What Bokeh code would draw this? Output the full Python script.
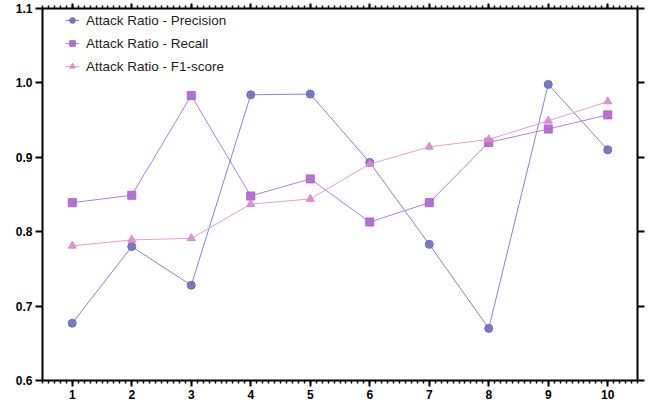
from bokeh.plotting import figure
from bokeh.models import (Range1d, LinearAxis, SingleIntervalTicker, FixedTicker,
                          PrintfTickFormatter, CustomJSTickFormatter, Legend, LegendItem)
from bokeh.embed import file_html
from bokeh.resources import INLINE

# ---- data ----
x_vals = [1, 2, 3, 4, 5, 6, 7, 8, 9, 10]
precision = [0.677, 0.780, 0.728, 0.984, 0.985, 0.893, 0.783, 0.670, 0.998, 0.910]
recall = [0.839, 0.849, 0.983, 0.848, 0.871, 0.813, 0.839, 0.920, 0.938, 0.957]
f1_score = [0.781, 0.789, 0.791, 0.837, 0.844, 0.891, 0.914, 0.924, 0.949, 0.975]
series_labels = ["Attack Ratio - Precision", "Attack Ratio - Recall", "Attack Ratio - F1-score"]
y_ticks = [0.6, 0.7, 0.8, 0.9, 1.0, 1.1]

FONT = "Liberation Sans"
W, H = 648, 405
TOP, BOTTOM, LEFT, RIGHT = 8, 25, 42, 11
FRAME_H = H - TOP - BOTTOM

p = figure(width=W, height=H, output_backend="svg", toolbar_location=None,
           x_range=Range1d(0.5, 10.5), y_range=Range1d(0.6, 1.1),
           x_axis_location=None, y_axis_location=None,
           min_border_left=LEFT, min_border_right=RIGHT,
           min_border_top=TOP, min_border_bottom=BOTTOM)
p.xgrid.visible = False
p.ygrid.visible = False
p.outline_line_color = None
p.background_fill_color = "white"
p.border_fill_color = "white"

def style(ax, tick_out, minor_out, labels=True):
    ax.axis_line_width = 2
    ax.axis_line_color = "black"
    ax.major_tick_line_width = 2
    ax.major_tick_line_color = "black"
    ax.minor_tick_line_width = 1.5
    ax.minor_tick_line_color = "black"
    ax.major_tick_in = 0
    ax.minor_tick_in = 0
    ax.major_tick_out = tick_out
    ax.minor_tick_out = minor_out
    if labels:
        ax.major_label_text_font = FONT
        ax.major_label_text_font_style = "bold"
        ax.major_label_text_font_size = "12px"
        ax.major_label_text_color = "black"
        ax.major_label_standoff = 3
    else:
        ax.formatter = CustomJSTickFormatter(code="return '';")
        ax.major_label_standoff = 0

xb = LinearAxis(ticker=SingleIntervalTicker(interval=1, num_minor_ticks=10))
style(xb, 6, 3)
p.add_layout(xb, "below")

xt = LinearAxis(ticker=SingleIntervalTicker(interval=1, num_minor_ticks=10))
style(xt, 5, 3, labels=False)
p.add_layout(xt, "above")

yl = LinearAxis(ticker=FixedTicker(ticks=y_ticks, minor_ticks=[]),
                formatter=PrintfTickFormatter(format="%.1f"))
style(yl, 7, 0)
p.add_layout(yl, "left")

yr = LinearAxis(ticker=FixedTicker(ticks=y_ticks, minor_ticks=[]))
style(yr, 7, 0, labels=False)
p.add_layout(yr, "right")

# ---- series ----
items = []
l1 = p.line(x_vals, precision, line_color="#8585cf", line_width=1)
m1 = p.scatter(x_vals, precision, marker="circle", size=8, fill_color="#6c6cc0",
               line_color="#6c6cc0", fill_alpha=0.9)
items.append(LegendItem(label=series_labels[0], renderers=[l1, m1]))

l2 = p.line(x_vals, recall, line_color="#b77fd9", line_width=1)
m2 = p.scatter(x_vals, recall, marker="square", size=8, fill_color="#ad64d2",
               line_color="#ad64d2", fill_alpha=0.9)
items.append(LegendItem(label=series_labels[1], renderers=[l2, m2]))

l3 = p.line(x_vals, f1_score, line_color="#e3a0d5", line_width=1)
m3 = p.scatter(x_vals, f1_score, marker="triangle", size=8, fill_color="#db88c8",
               line_color="#db88c8", fill_alpha=0.9)
items.append(LegendItem(label=series_labels[2], renderers=[l3, m3]))

legend = Legend(items=items, location=(23, FRAME_H - 66 - 2),
                margin=0, padding=0, spacing=3,
                glyph_width=14, glyph_height=20, label_standoff=7,
                label_text_font=FONT, label_text_font_size="13.5px",
                label_text_color="#222222",
                background_fill_alpha=0, border_line_alpha=0)
p.add_layout(legend, "center")

open("out.html", "w").write(file_html(p, INLINE))
